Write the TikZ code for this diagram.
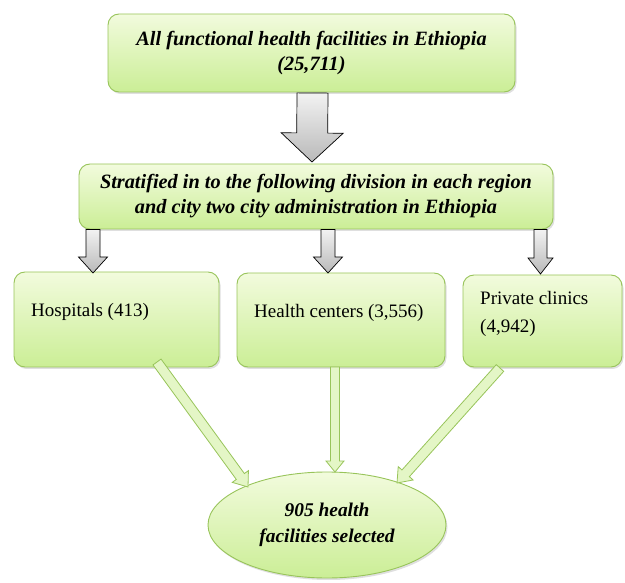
\documentclass[tikz,border=0pt]{standalone}
\usepackage{fontspec}
\setmainfont{Liberation Serif}
\usetikzlibrary{calc,shapes.geometric,shadows}
\definecolor{gtop}{HTML}{F2FBDD}
\definecolor{gbot}{HTML}{CBEE96}
\definecolor{gline}{HTML}{98C45A}
\definecolor{afill}{HTML}{E4F6C6}
\newcommand\blockarrow[6]{%
  \coordinate (ba-h) at ($(#3)!#6!(#2)$);
  \draw[#1] ($(#2)!#4!90:(#3)$) -- ($(ba-h)!#4!-90:(#2)$) -- ($(ba-h)!#5!-90:(#2)$) -- (#3)
    -- ($(ba-h)!#5!90:(#2)$) -- ($(ba-h)!#4!90:(#2)$) -- ($(#2)!#4!-90:(#3)$) -- cycle;
}
\begin{document}
\begin{tikzpicture}[x=1pt,y=-1pt,
  gbox/.style={draw=gline, line width=0.9pt, rounded corners=11pt, top color=gtop, bottom color=gbot,
    drop shadow={shadow xshift=1.5pt, shadow yshift=-2pt, opacity=0.25}, inner sep=0pt},
  bigtext/.style={font=\fontsize{20.3}{25}\selectfont\bfseries\itshape, align=center},
  boxtext/.style={font=\fontsize{19}{28}\selectfont, align=left, anchor=west, inner sep=0pt},
  grayarrow/.style={draw=black, line width=0.7pt, left color=gray!10, right color=gray!55, shading angle=0},
  greenarrow/.style={draw=gline, line width=0.8pt, fill=afill}]
\useasboundingbox (0,0) rectangle (625,583);
\node[gbox, minimum width=407pt, minimum height=78pt, bigtext] (top) at (311.5,53)
  {All functional health facilities in Ethiopia\\(25,711)};
\node[gbox, minimum width=474pt, minimum height=65pt, bigtext] (mid) at (316,196.5)
  {Stratified in to the following division in each region\\and city two city administration in Ethiopia};
\node[gbox, minimum width=205pt, minimum height=95pt] (hosp) at (116.5,319.5) {};
\node[gbox, minimum width=208pt, minimum height=94pt] (hc) at (341,320) {};
\node[gbox, minimum width=159pt, minimum height=92pt] (pc) at (542.5,321) {};
\node[boxtext] (hospt) at (31,312) {Hospitals (413)};
\node[boxtext] (hct) at (254,313) {Health centers (3,556)};
\node[boxtext] (pct) at (480,314) {Private clinics\\(4,942)};
\node[gbox, ellipse, minimum width=238pt, minimum height=106pt,
  font=\fontsize{19.4}{26}\selectfont\bfseries\itshape, align=center] (sel) at (327,525)
  {905 health\\facilities selected};
% gray arrows
\coordinate (a0s) at (312.5,93);  \coordinate (a0e) at (312,162);
\blockarrow{grayarrow}{a0s}{a0e}{15.5pt}{31pt}{29pt}
\coordinate (a1s) at (93,229.5);  \coordinate (a1e) at (93,273);
\blockarrow{grayarrow}{a1s}{a1e}{7pt}{14.5pt}{16pt}
\coordinate (a2s) at (328,229.5); \coordinate (a2e) at (328,273);
\blockarrow{grayarrow}{a2s}{a2e}{7pt}{14.5pt}{16pt}
\coordinate (a3s) at (540.5,229.5); \coordinate (a3e) at (540.5,274);
\blockarrow{grayarrow}{a3s}{a3e}{6.5pt}{12.5pt}{16pt}
% green arrows
\coordinate (g1s) at (157,362); \coordinate (g1e) at (248,487);
\blockarrow{greenarrow}{g1s}{g1e}{5pt}{10pt}{13pt}
\coordinate (g2s) at (335,367); \coordinate (g2e) at (335,472);
\blockarrow{greenarrow}{g2s}{g2e}{4.5pt}{9pt}{11pt}
\coordinate (g3s) at (500,368); \coordinate (g3e) at (397,483);
\blockarrow{greenarrow}{g3s}{g3e}{5pt}{10pt}{13pt}
\end{tikzpicture}
\end{document}
